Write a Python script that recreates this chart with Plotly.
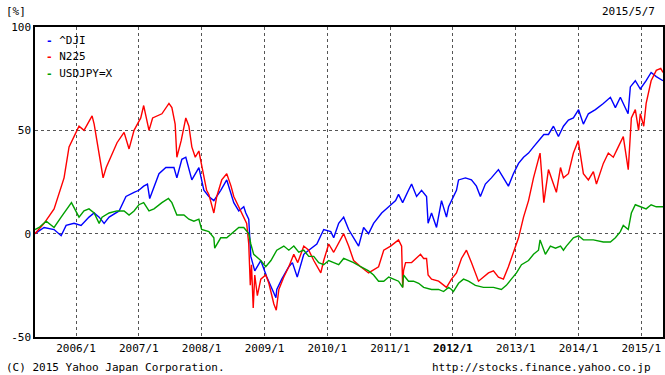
import plotly.graph_objects as go
import pandas as pd

series_names = ["^DJI", "N225", "USDJPY=X"]
series_colors = ["#0000ff", "#ff0000", "#00a000"]

dji_dates = ["2005-05-07","2005-06-29","2005-08-26","2005-10-06","2005-11-04","2005-12-20","2006-01-30",
    "2006-03-17","2006-04-16","2006-05-15","2006-06-13","2006-07-12","2006-09-08","2006-10-18","2006-12-04",
    "2007-01-01","2007-01-29","2007-02-20","2007-03-05","2007-03-30","2007-04-28","2007-06-07","2007-07-24",
    "2007-08-10","2007-09-08","2007-10-01","2007-11-05","2007-12-16","2008-01-14","2008-02-12","2008-03-12",
    "2008-04-21","2008-05-26","2008-07-06","2008-08-04","2008-09-02","2008-09-14","2008-10-01","2008-10-13",
    "2008-11-05","2008-12-10","2009-01-14","2009-03-08","2009-03-13","2009-04-11","2009-05-22","2009-06-12",
    "2009-07-10","2009-08-17","2009-09-15","2009-11-01","2009-12-11","2010-01-21","2010-02-07","2010-03-08",
    "2010-04-06","2010-05-05","2010-06-03","2010-07-02","2010-07-31","2010-08-29","2010-09-27","2010-11-13",
    "2010-12-24","2011-02-02","2011-02-19","2011-03-15","2011-04-18","2011-05-06","2011-06-04","2011-07-03",
    "2011-08-01","2011-08-10","2011-08-30","2011-09-28","2011-10-27","2011-11-25","2011-12-07","2011-12-24",
    "2012-01-22","2012-02-03","2012-03-14","2012-04-18","2012-05-17","2012-06-09","2012-07-08","2012-08-12",
    "2012-09-22","2012-10-21","2012-11-19","2012-12-18","2013-01-17","2013-02-15","2013-03-16","2013-04-14",
    "2013-05-13","2013-06-13","2013-07-10","2013-08-08","2013-09-06","2013-10-05","2013-11-03","2013-12-02",
    "2014-01-01","2014-01-29","2014-02-27","2014-04-09","2014-05-25","2014-07-05","2014-08-03","2014-09-01",
    "2014-10-16","2014-10-29","2014-11-27","2014-12-26","2015-01-29","2015-02-27","2015-03-29","2015-05-07"]
dji_values = [0,3,2,-1,4,5,4,
    8,10,8,5,8,11,18,20,
    21,23,24,17,23,29,32,32,
    27,36,37,26,32,21,18,16,
    21,26,15,11,13,10,7,-11,
    -18,-13,-21,-31,-27,-22,-16,-14,
    -21,-10,-8,-5,2,1,-2,5,
    8,2,-2,-6,3,0,5,10,
    13,16,19,15,21,24,18,21,
    18,5,10,3,16,8,13,16,
    21,26,27,26,23,18,24,27,
    31,27,23,29,34,37,39,42,
    45,48,48,52,47,52,55,56,
    60,53,58,60,63,66,61,66,
    58,71,74,70,74,78,76,74]

n225_dates = ["2005-05-07","2005-06-29","2005-08-26","2005-10-23","2005-11-21","2005-12-20","2006-01-05",
    "2006-01-18","2006-02-16","2006-04-04","2006-04-16","2006-05-15","2006-06-07","2006-06-25","2006-08-27",
    "2006-10-07","2006-11-05","2006-12-04","2007-01-12","2007-01-29","2007-03-01","2007-03-22","2007-05-15",
    "2007-06-25","2007-07-12","2007-07-31","2007-08-10","2007-09-04","2007-10-01","2007-10-19","2007-11-05",
    "2007-11-25","2007-12-16","2007-12-30","2008-01-30","2008-02-12","2008-03-12","2008-03-29","2008-04-27",
    "2008-05-26","2008-06-20","2008-07-06","2008-08-04","2008-09-02","2008-09-19","2008-10-01","2008-10-10",
    "2008-10-17","2008-10-27","2008-11-05","2008-11-20","2008-12-10","2009-01-08","2009-01-26","2009-02-24",
    "2009-03-10","2009-03-25","2009-04-23","2009-05-22","2009-06-20","2009-07-13","2009-08-17","2009-09-15",
    "2009-10-14","2009-11-24","2009-12-11","2010-01-09","2010-02-07","2010-04-06","2010-05-05","2010-06-03",
    "2010-07-14","2010-08-29","2010-10-26","2010-11-25","2011-01-04","2011-02-19","2011-03-09","2011-03-15",
    "2011-03-20","2011-04-01","2011-05-06","2011-06-27","2011-07-15","2011-08-01","2011-08-10","2011-08-30",
    "2011-10-10","2011-11-25","2011-12-24","2012-01-22","2012-02-20","2012-03-20","2012-04-18","2012-05-29",
    "2012-07-26","2012-08-24","2012-09-22","2012-10-21","2012-11-19","2013-01-01","2013-01-17","2013-02-15",
    "2013-03-16","2013-04-14","2013-05-22","2013-06-13","2013-07-10","2013-08-08","2013-08-25","2013-09-18",
    "2013-10-05","2013-11-03","2013-12-02","2013-12-30","2014-01-29","2014-02-27","2014-03-28","2014-04-15",
    "2014-05-25","2014-06-23","2014-07-22","2014-08-20","2014-09-18","2014-10-17","2014-11-04","2014-11-27",
    "2014-12-16","2014-12-26","2015-01-15","2015-01-29","2015-02-27","2015-03-29","2015-04-24","2015-05-07"]
n225_values = [0,5,12,27,42,47,49,
    52,50,57,53,39,27,32,44,
    49,41,50,56,62,50,56,58,
    63,61,53,37,45,56,52,42,
    37,40,34,21,19,10,18,26,
    29,23,18,13,8,5,-5,-25,
    -15,-36,-20,-30,-22,-20,-24,-34,
    -37,-27,-21,-16,-10,-14,-6,-8,
    -13,-19,-13,-5,-9,0,-6,-13,
    -16,-19,-16,-8,-6,-3,-6,-26,
    -18,-14,-14,-10,-12,-12,-20,-22,
    -23,-26,-22,-19,-12,-8,-14,-23,
    -19,-18,-21,-22,-16,-6,-2,8,
    16,27,39,15,31,24,20,32,
    27,29,39,45,29,26,30,24,
    34,39,37,42,47,31,56,60,
    50,58,52,63,74,79,80,78]

usdjpy_dates = ["2005-05-07","2005-05-31","2005-07-11","2005-07-28","2005-08-26","2005-10-06","2005-11-21",
    "2005-12-05","2006-01-18","2006-02-16","2006-03-17","2006-04-16","2006-05-15","2006-06-01","2006-07-12",
    "2006-08-27","2006-10-07","2006-11-05","2006-12-04","2007-01-01","2007-01-29","2007-03-01","2007-03-30",
    "2007-05-15","2007-06-22","2007-07-12","2007-08-10","2007-09-20","2007-10-19","2007-11-17","2007-12-16",
    "2008-01-01","2008-02-12","2008-03-12","2008-03-17","2008-04-21","2008-05-26","2008-07-06","2008-08-04",
    "2008-09-02","2008-10-01","2008-10-13","2008-10-30","2008-12-10","2009-01-08","2009-02-07","2009-03-13",
    "2009-04-23","2009-05-22","2009-06-20","2009-07-19","2009-08-17","2009-09-15","2009-10-14","2009-11-12",
    "2009-12-11","2010-01-09","2010-02-07","2010-03-08","2010-04-06","2010-05-05","2010-06-03","2010-07-14",
    "2010-08-29","2010-09-27","2010-10-26","2010-11-25","2010-12-24","2011-01-21","2011-02-19","2011-03-15",
    "2011-03-20","2011-04-18","2011-05-17","2011-06-16","2011-07-15","2011-08-30","2011-10-10","2011-11-08",
    "2011-12-07","2011-12-24","2012-01-04","2012-02-03","2012-03-03","2012-04-01","2012-05-11","2012-06-27",
    "2012-08-24","2012-10-09","2012-11-07","2012-12-06","2013-01-05","2013-02-03","2013-03-16","2013-04-14",
    "2013-05-13","2013-05-22","2013-06-22","2013-07-21","2013-08-20","2013-09-18","2013-10-05","2013-10-22",
    "2013-12-02","2014-01-01","2014-01-29","2014-03-28","2014-05-25","2014-07-05","2014-08-03","2014-09-01",
    "2014-09-18","2014-10-17","2014-11-04","2014-11-27","2014-12-26","2015-01-29","2015-02-27","2015-03-29",
    "2015-05-07"]
usdjpy_values = [2,3,6,5,3,8,13,
    15,8,11,12,10,5,8,10,
    11,11,9,11,14,15,11,12,
    15,17,15,9,9,7,6,7,
    2,1,-2,-7,-2,-2,1,3,
    3,0,-5,-10,-13,-16,-13,-8,
    -6,-8,-6,-9,-8,-11,-11,-14,
    -15,-13,-14,-15,-12,-13,-14,-16,
    -18,-20,-23,-23,-21,-22,-23,-26,
    -20,-23,-23,-24,-26,-27,-27,-28,
    -26,-27,-28,-24,-22,-23,-25,-26,
    -26,-27,-25,-22,-19,-15,-13,-10,
    -8,-3,-10,-6,-7,-6,-8,-6,
    -2,-1,-3,-3,-4,-4,-2,1,
    4,2,10,14,13,12,14,13,
    13]

x_tick_vals = ["2006-01-01","2007-01-01","2008-01-01","2009-01-01","2010-01-01",
               "2011-01-01","2012-01-01","2013-01-01","2014-01-01","2015-01-01"]
x_tick_text = ["2006/1","2007/1","2008/1","2009/1","2010/1",
               "2011/1","<b>2012/1</b>","2013/1","2014/1","2015/1"]
y_tick_vals = [100, 50, 0, -50]
y_tick_text = ["100", "50", "0", "-50"]
x_range = ["2005-05-07", "2015-05-07"]
y_range = [-50, 100]

FONT = "DejaVu Sans Mono"
BLACK = "#000"

fig = go.Figure()
data = [(dji_dates, dji_values), (n225_dates, n225_values), (usdjpy_dates, usdjpy_values)]
for (d, v), name, color in zip(data, series_names, series_colors):
    fig.add_trace(go.Scatter(x=pd.to_datetime(d), y=v, mode="lines", name=name,
                             line=dict(color=color, width=1.4), showlegend=False))

# compact legend drawn as annotations
for i, (name, color) in enumerate(zip(series_names, series_colors)):
    fig.add_annotation(xref="paper", yref="paper", x=0.015, y=1 - (0.042 + i * 0.054),
                       xanchor="left", yanchor="middle", showarrow=False,
                       text=f"<b><span style='color:{color}'>-</span></b> {name}",
                       font=dict(family=FONT, size=11, color=BLACK))

corner_texts = [
    ("[%]", -0.050, 1.050, "left"),
    ("2015/5/7", 0.991, 1.050, "right"),
    ("(C) 2015 Yahoo Japan Corporation.", -0.050, -0.097, "left"),
    ("http://stocks.finance.yahoo.co.jp", 0.984, -0.097, "right"),
]
for txt, px, py, anchor in corner_texts:
    fig.add_annotation(xref="paper", yref="paper", x=px, y=py, xanchor=anchor, yanchor="middle",
                       showarrow=False, text=txt, font=dict(family=FONT, size=11, color=BLACK))

axis_common = dict(showgrid=True, gridcolor="#555", griddash="dot", gridwidth=1,
                   showline=True, linecolor=BLACK, linewidth=1.5, mirror=True,
                   ticks="", zeroline=False, automargin=False,
                   tickfont=dict(family=FONT, size=11, color=BLACK))

fig.update_layout(
    width=665, height=375,
    margin=dict(l=35, r=2, t=27, b=38, autoexpand=False),
    paper_bgcolor="white", plot_bgcolor="white",
    font=dict(family=FONT, size=11, color=BLACK),
    hovermode=False,
    xaxis=dict(range=pd.to_datetime(x_range), tickvals=pd.to_datetime(x_tick_vals),
               ticktext=x_tick_text, **axis_common),
    yaxis=dict(range=y_range, tickvals=y_tick_vals, ticktext=y_tick_text, **axis_common),
)

fig.write_html("out.html", config={"displayModeBar": False},
               post_script="document.body.style.margin='0px';document.body.style.overflow='hidden';")
